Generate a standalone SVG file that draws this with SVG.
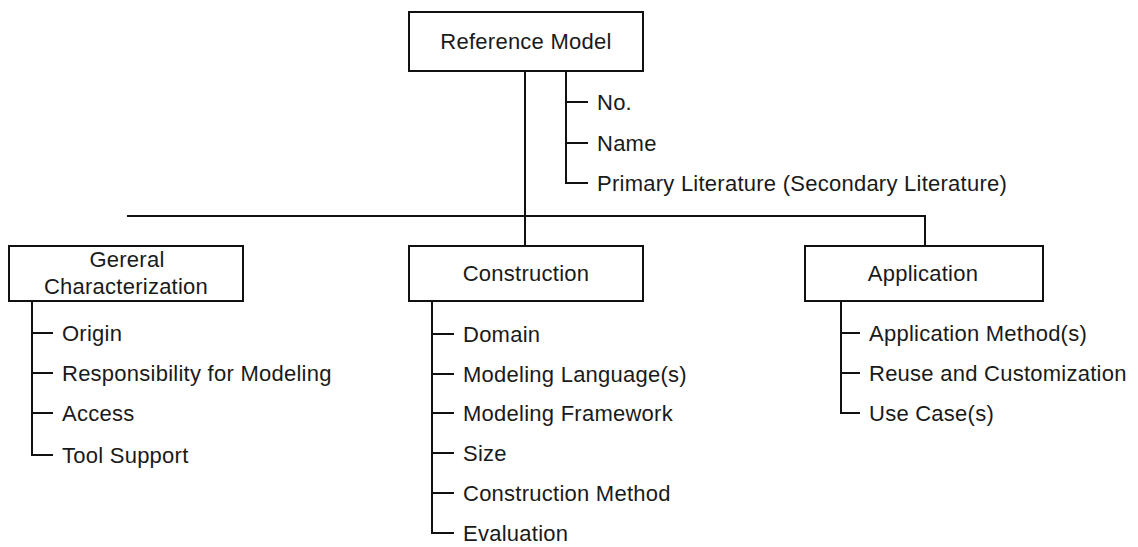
<svg xmlns="http://www.w3.org/2000/svg" width="1138" height="547" viewBox="0 0 1138 547">
<style>
.box{fill:#fff;stroke:#111;stroke-width:2}
.ln{fill:none;stroke:#111;stroke-width:2}
.t{font-family:"Liberation Sans",Arial,sans-serif;font-size:22px;letter-spacing:0.25px;fill:#1a1a1a}
.c{text-anchor:middle}
</style>
<rect width="1138" height="547" fill="#fff"/>
<g id="connectors">
<path class="ln" d="M525 71V246M127 216H925V246"/>
<path class="ln" d="M566 71V183H588M566 102H588M566 143H588"/>
<path class="ln" d="M32 301V455H53M32 333H53M32 373H53M32 413H53"/>
<path class="ln" d="M432 301V533H454M432 334H454M432 374H454M432 413H454M432 453H454M432 493H454"/>
<path class="ln" d="M841 301V413H860M841 333H860M841 373H860"/>
</g>
<g id="reference-model">
<rect class="box" x="409" y="12" width="234" height="59"/>
<text class="t c" x="526" y="49">Reference Model</text>
</g>
<g id="rm-attributes">
<text class="t" x="597" y="110">No.</text>
<text class="t" x="597" y="151">Name</text>
<text class="t" x="597" y="191">Primary Literature (Secondary Literature)</text>
</g>
<g id="general-characterization">
<rect class="box" x="9" y="246" width="234" height="55"/>
<text class="t c" x="127" y="267">Gereral</text>
<text class="t c" x="126" y="294">Characterization</text>
</g>
<g id="gc-attributes">
<text class="t" x="62" y="341">Origin</text>
<text class="t" x="62" y="381">Responsibility for Modeling</text>
<text class="t" x="62" y="421">Access</text>
<text class="t" x="62" y="463">Tool Support</text>
</g>
<g id="construction">
<rect class="box" x="409" y="246" width="234" height="55"/>
<text class="t c" x="526" y="281">Construction</text>
</g>
<g id="construction-attributes">
<text class="t" x="463" y="342">Domain</text>
<text class="t" x="463" y="382">Modeling Language(s)</text>
<text class="t" x="463" y="421">Modeling Framework</text>
<text class="t" x="463" y="461">Size</text>
<text class="t" x="463" y="501">Construction Method</text>
<text class="t" x="463" y="541">Evaluation</text>
</g>
<g id="application">
<rect class="box" x="805" y="246" width="238" height="55"/>
<text class="t c" x="923" y="281">Application</text>
</g>
<g id="application-attributes">
<text class="t" x="869" y="341">Application Method(s)</text>
<text class="t" x="869" y="381">Reuse and Customization</text>
<text class="t" x="869" y="421">Use Case(s)</text>
</g>
</svg>
